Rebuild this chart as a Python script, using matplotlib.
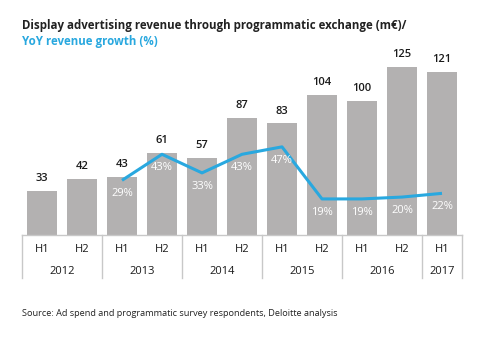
import matplotlib
matplotlib.use("Agg")
import matplotlib.pyplot as plt
import matplotlib.transforms as mtransforms

plt.rcParams['font.family'] = ['Open Sans', 'DejaVu Sans']

# data
halves = ['H1', 'H2', 'H1', 'H2', 'H1', 'H2', 'H1', 'H2', 'H1', 'H2', 'H1']
years = ['2012', '2013', '2014', '2015', '2016', '2017']
year_spans = [(0, 1), (2, 3), (4, 5), (6, 7), (8, 9), (10, 10)]
revenue = [33, 42, 43, 61, 57, 87, 83, 104, 100, 125, 121]
growth_idx = [2, 3, 4, 5, 6, 7, 8, 9, 10]
growth = [29, 43, 33, 43, 47, 19, 19, 20, 22]

bar_col = '#b3b1b1'
blue = '#29a8df'
dark = '#1a1a1a'
grid_col = '#c8c8c8'

W, H = 494, 346
fig = plt.figure(figsize=(W / 100, H / 100), dpi=100)
ax = fig.add_axes([22 / W, (H - 235) / H, 440 / W, 180 / H])

x = list(range(len(revenue)))
ax.bar(x, revenue, width=0.76, color=bar_col, zorder=2)
ax.set_xlim(-0.5, 10.5)
ax.set_ylim(0, 180 / 1.344)
for xi, v in zip(x, revenue):
    ax.annotate(str(v), (xi, v), xytext=(0, 5), textcoords='offset points',
                ha='center', va='bottom', fontsize=8, color=dark, fontweight='semibold')

ax2 = ax.twinx()
ax2.set_ylim(-0.4, 96.4)
ax2.plot(growth_idx, growth, color=blue, lw=2.2, zorder=3, solid_capstyle='butt')
for xi, g in zip(growth_idx, growth):
    ax2.annotate(f'{g}%', (xi, g), xytext=(0, -9.5), textcoords='offset points',
                 ha='center', va='center', fontsize=8, color='white')

for a in (ax, ax2):
    a.set_xticks([])
    a.set_yticks([])
    for s in a.spines.values():
        s.set_visible(False)

# category table under the bars
trans = mtransforms.blended_transform_factory(ax.transData, ax.transAxes)
ax.plot([-0.5, 10.5], [0, 0], color=grid_col, lw=1, transform=trans, clip_on=False)
seps = [-0.5] + [b + 0.5 for a, b in year_spans]
for s in seps:
    ax.plot([s, s], [0, -43 / 180], color=grid_col, lw=1, transform=trans, clip_on=False)
for xi, h in zip(x, halves):
    ax.text(xi, -15 / 180, h, transform=trans, ha='center', va='center',
            fontsize=8, color=dark)
for yr, (a, b) in zip(years, year_spans):
    ax.text((a + b) / 2, -36 / 180, yr, transform=trans, ha='center', va='center',
            fontsize=8, color=dark)

fig.text(22 / W, 1 - 26 / H, 'Display advertising revenue through programmatic exchange (m€)/',
         fontsize=8.3, fontweight='bold', color='#222222', va='center', ha='left')
fig.text(22 / W, 1 - 42 / H, 'YoY revenue growth (%)',
         fontsize=8.3, fontweight='bold', color=blue, va='center', ha='left')
fig.text(22 / W, 1 - 314 / H, 'Source: Ad spend and programmatic survey respondents, Deloitte analysis',
         fontsize=6.6, color='#222222', va='center', ha='left')

fig.savefig('out.png', dpi=100)
